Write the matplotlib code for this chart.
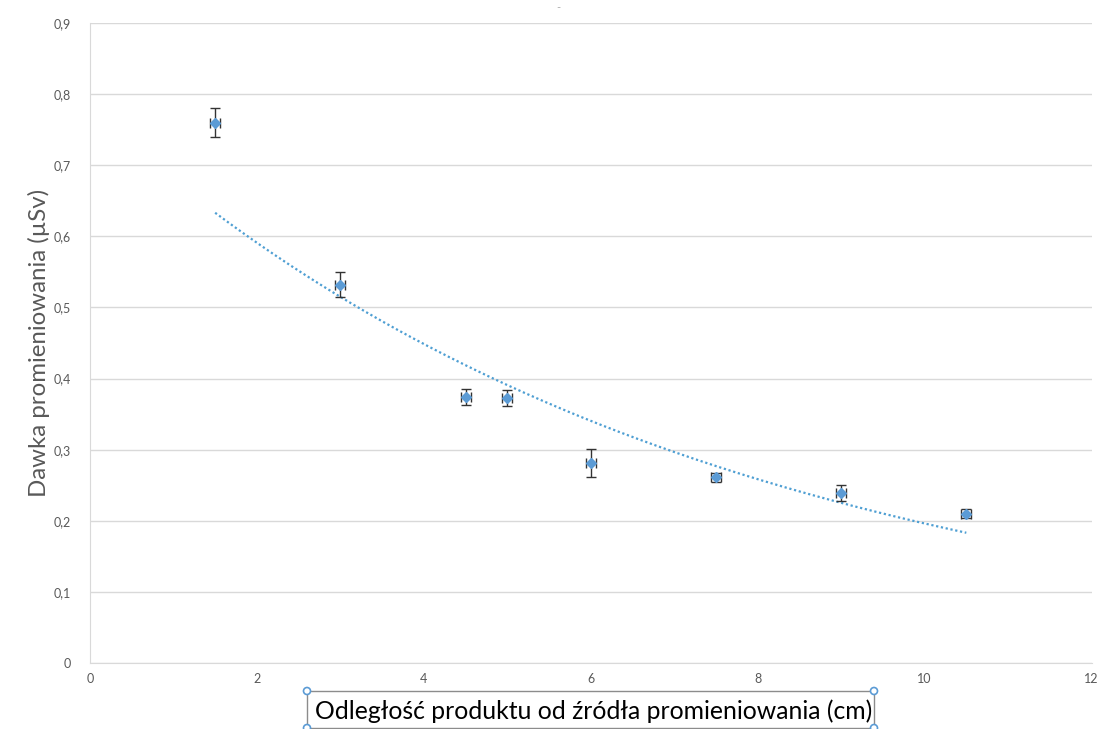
import numpy as np
import matplotlib.pyplot as plt
from matplotlib.patches import Rectangle, Circle
from matplotlib.ticker import FuncFormatter

# Measured points
distance_cm = [1.5, 3, 4.5, 5, 6, 7.5, 9, 10.5]
dose_usv = [0.76, 0.532, 0.374, 0.373, 0.281, 0.261, 0.239, 0.21]
dose_err = [0.021, 0.018, 0.011, 0.011, 0.02, 0.006, 0.011, 0.006]
distance_err = [0.06, 0.06, 0.06, 0.06, 0.06, 0.06, 0.06, 0.06]

x_ticks = [0, 2, 4, 6, 8, 10, 12]
y_ticks = [0, 0.1, 0.2, 0.3, 0.4, 0.5, 0.6, 0.7, 0.8, 0.9]

blue = '#5B9BD5'
gray = '#595959'
grid = '#d9d9d9'

plt.rcParams['font.family'] = ['Lato', 'DejaVu Sans']

fig = plt.figure(figsize=(10.97, 7.29), dpi=100)
ax = fig.add_axes([0.082, 0.0905, 0.913, 0.878])

# Exponential trendline (Excel style), fitted on log of dose
b, ln_a = np.polyfit(distance_cm, np.log(dose_usv), 1)
xt = np.linspace(min(distance_cm), max(distance_cm), 200)
ax.plot(xt, np.exp(ln_a) * np.exp(b * xt), linestyle=(0, (1, 1.2)),
        color='#4f9fd3', linewidth=1.6, zorder=2)

ax.errorbar(distance_cm, dose_usv, yerr=dose_err, xerr=distance_err,
            fmt='D', color=blue, markersize=5.5, ecolor='#333333',
            elinewidth=1, capsize=3.5, capthick=1, zorder=3)

ax.set_xlim(0, 12)
ax.set_ylim(0, 0.9)
ax.set_xticks(x_ticks)
ax.set_yticks(y_ticks)
fmt = FuncFormatter(lambda v, p: ('%g' % round(v, 2)).replace('.', ','))
ax.xaxis.set_major_formatter(fmt)
ax.yaxis.set_major_formatter(fmt)
ax.tick_params(axis='x', length=0, labelsize=9, colors=gray, pad=7)
ax.tick_params(axis='y', length=0, labelsize=9, colors=gray, pad=14)
ax.grid(axis='y', color=grid, linewidth=1)
ax.set_axisbelow(True)
for s in ['top', 'right']:
    ax.spines[s].set_visible(False)
ax.spines['left'].set_color(grid)
ax.spines['bottom'].set_color(grid)

ax.set_ylabel('Dawka promieniowania (µSv)', fontsize=17.3, color=gray, labelpad=2)

# Selected x-axis title box (as in the editor screenshot)
fig.text(0.541, 0.024, 'Odległość produktu od źródła promieniowania (cm)',
         fontsize=17.8, color='black', ha='center', va='center')
bx0, bx1 = 307 / 1097, 874 / 1097
by0, by1 = 1 / 729, 38 / 729
fig.patches.append(Rectangle((bx0, by0), bx1 - bx0, by1 - by0,
                             transform=fig.transFigure, fill=False,
                             edgecolor='#8c8c8c', linewidth=1))
for cx in (bx0, bx1):
    for cy in (by0, by1):
        fig.patches.append(Circle((cx * 1097, cy * 729), 3.5, transform=None,
                                  facecolor='white', edgecolor=blue, linewidth=1.2))

fig.text(558 / 1097, 1 - 8 / 729, '-', fontsize=8, color='#aaaaaa', ha='center', va='center')

fig.savefig('out.png', dpi=100)
